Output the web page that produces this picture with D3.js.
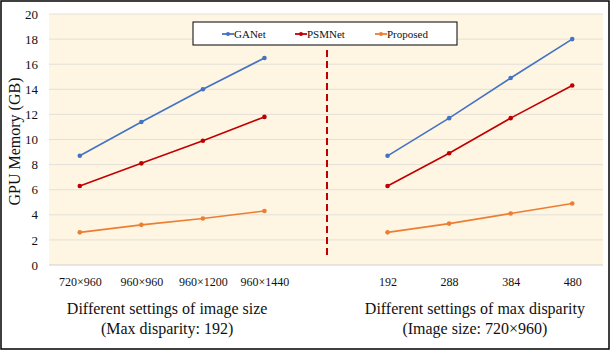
<!DOCTYPE html>
<html>
<head>
<meta charset="utf-8">
<script src="https://cdn.jsdelivr.net/npm/d3@7"></script>
<style>
  body { margin: 0; background: #fff; }
  svg text { font-family: "Liberation Serif", "DejaVu Serif", serif; fill: #111; }
</style>
</head>
<body>
<div class="chart"></div>
<script>
// x categories (left group: image size, right group: max disparity)
const sizeLabels = ["720×960", "960×960", "960×1200", "960×1440"];
const dispLabels = ["192", "288", "384", "480"];
const gapKey = "gap";
const yTicks = [0, 2, 4, 6, 8, 10, 12, 14, 16, 18, 20];

// GPU memory (GB), left group then right group
const ganet = [8.7, 11.4, 14.0, 16.5, 8.7, 11.7, 14.9, 18.0];
const psmnet = [6.3, 8.1, 9.9, 11.8, 6.3, 8.9, 11.7, 14.3];
const proposed = [2.6, 3.2, 3.7, 4.3, 2.6, 3.3, 4.1, 4.9];

const seriesNames = ["GANet", "PSMNet", "Proposed"];
const colors = { GANet: "#4472C4", PSMNet: "#C00000", Proposed: "#ED7D31" };

const W = 612, H = 352;
const plot = { left: 49, right: 603, top: 14, bottom: 265 };

const svg = d3.select(".chart").append("svg")
  .attr("width", W).attr("height", H);

// outer frame
svg.append("rect")
  .attr("x", 1).attr("y", 1).attr("width", 608).attr("height", 348)
  .attr("fill", "#fff").attr("stroke", "#000").attr("stroke-width", 1.5);

// plot background
svg.append("rect")
  .attr("x", plot.left).attr("y", plot.top)
  .attr("width", plot.right - plot.left).attr("height", plot.bottom - plot.top)
  .attr("fill", "#FEF6E2");

const x = d3.scalePoint()
  .domain([...sizeLabels, gapKey, ...dispLabels])
  .range([plot.left, plot.right])
  .padding(0.5);

const y = d3.scaleLinear().domain([0, 20]).range([plot.bottom, plot.top]);

// gridlines
svg.append("g")
  .selectAll("line")
  .data(yTicks.filter(d => d > 0))
  .join("line")
  .attr("x1", plot.left).attr("x2", plot.right)
  .attr("y1", d => y(d)).attr("y2", d => y(d))
  .attr("stroke", "#E3E0D8").attr("stroke-width", 1);

// y axis labels
const yAxis = svg.append("g")
  .attr("transform", `translate(${plot.left},0)`)
  .call(d3.axisLeft(y).tickValues(yTicks).tickSize(0).tickPadding(11));
yAxis.select(".domain").remove();
yAxis.selectAll("text").style("font-size", "13px").style("font-family", "Liberation Serif, serif");

// x axis line and labels
svg.append("line")
  .attr("x1", plot.left).attr("x2", plot.right)
  .attr("y1", y(0)).attr("y2", y(0))
  .attr("stroke", "#D0D0D0").attr("stroke-width", 1);

const xAxis = svg.append("g")
  .attr("transform", `translate(0,${y(0)})`)
  .call(d3.axisBottom(x).tickSize(0).tickPadding(12).tickFormat(d => d === gapKey ? "" : d));
xAxis.select(".domain").remove();
xAxis.selectAll("text").style("font-size", "12px").style("font-family", "Liberation Serif, serif");

// y axis title
svg.append("text")
  .attr("transform", `translate(14,${(plot.top + plot.bottom) / 2 + 2}) rotate(-90)`)
  .attr("text-anchor", "middle")
  .attr("dominant-baseline", "central")
  .style("font-size", "16px")
  .text("GPU Memory (GB)");

// x group titles
const leftMid = (x(sizeLabels[0]) + x(sizeLabels[3])) / 2 - 5;
const rightMid = (x(dispLabels[0]) + x(dispLabels[3])) / 2 - 5;
[[leftMid, "Different settings of image size", "(Max disparity: 192)"],
 [rightMid, "Different settings of max disparity", "(Image size: 720×960)"]].forEach(([cx, l1, l2]) => {
  svg.append("text").attr("x", cx).attr("y", 314).attr("text-anchor", "middle")
    .style("font-size", "16px").text(l1);
  svg.append("text").attr("x", cx).attr("y", 334).attr("text-anchor", "middle")
    .style("font-size", "16px").text(l2);
});

// dashed separator
svg.append("line")
  .attr("x1", x(gapKey) + 1).attr("x2", x(gapKey) + 1)
  .attr("y1", 50).attr("y2", 256)
  .attr("stroke", "#C00000").attr("stroke-width", 2)
  .attr("stroke-dasharray", "7,4");

// series lines
const seriesData = { GANet: ganet, PSMNet: psmnet, Proposed: proposed };
const line = d3.line().x(d => x(d.cat)).y(d => y(d.v));

seriesNames.forEach(name => {
  const vals = seriesData[name];
  const groups = [
    sizeLabels.map((c, i) => ({ cat: c, v: vals[i] })),
    dispLabels.map((c, i) => ({ cat: c, v: vals[i + 4] }))
  ];
  groups.forEach(g => {
    svg.append("path")
      .datum(g)
      .attr("d", line)
      .attr("fill", "none")
      .attr("stroke", colors[name])
      .attr("stroke-width", 1.6);
    svg.append("g")
      .selectAll("circle")
      .data(g)
      .join("circle")
      .attr("cx", d => x(d.cat)).attr("cy", d => y(d.v))
      .attr("r", 2.3)
      .attr("fill", colors[name]);
  });
});

// legend
const legend = svg.append("g");
legend.append("rect")
  .attr("x", 193).attr("y", 22).attr("width", 264).attr("height", 23)
  .attr("fill", "#fff").attr("stroke", "#000").attr("stroke-width", 1);

const legendX = [222, 295, 375];
seriesNames.forEach((name, i) => {
  const lx = legendX[i];
  legend.append("line")
    .attr("x1", lx).attr("x2", lx + 12)
    .attr("y1", 34).attr("y2", 34)
    .attr("stroke", colors[name]).attr("stroke-width", 1.8);
  legend.append("circle")
    .attr("cx", lx + 6).attr("cy", 34).attr("r", 2)
    .attr("fill", colors[name]);
  legend.append("text")
    .attr("x", lx + 12).attr("y", 34)
    .attr("dominant-baseline", "central")
    .style("font-size", "11px")
    .text(name);
});
</script>
</body>
</html>
